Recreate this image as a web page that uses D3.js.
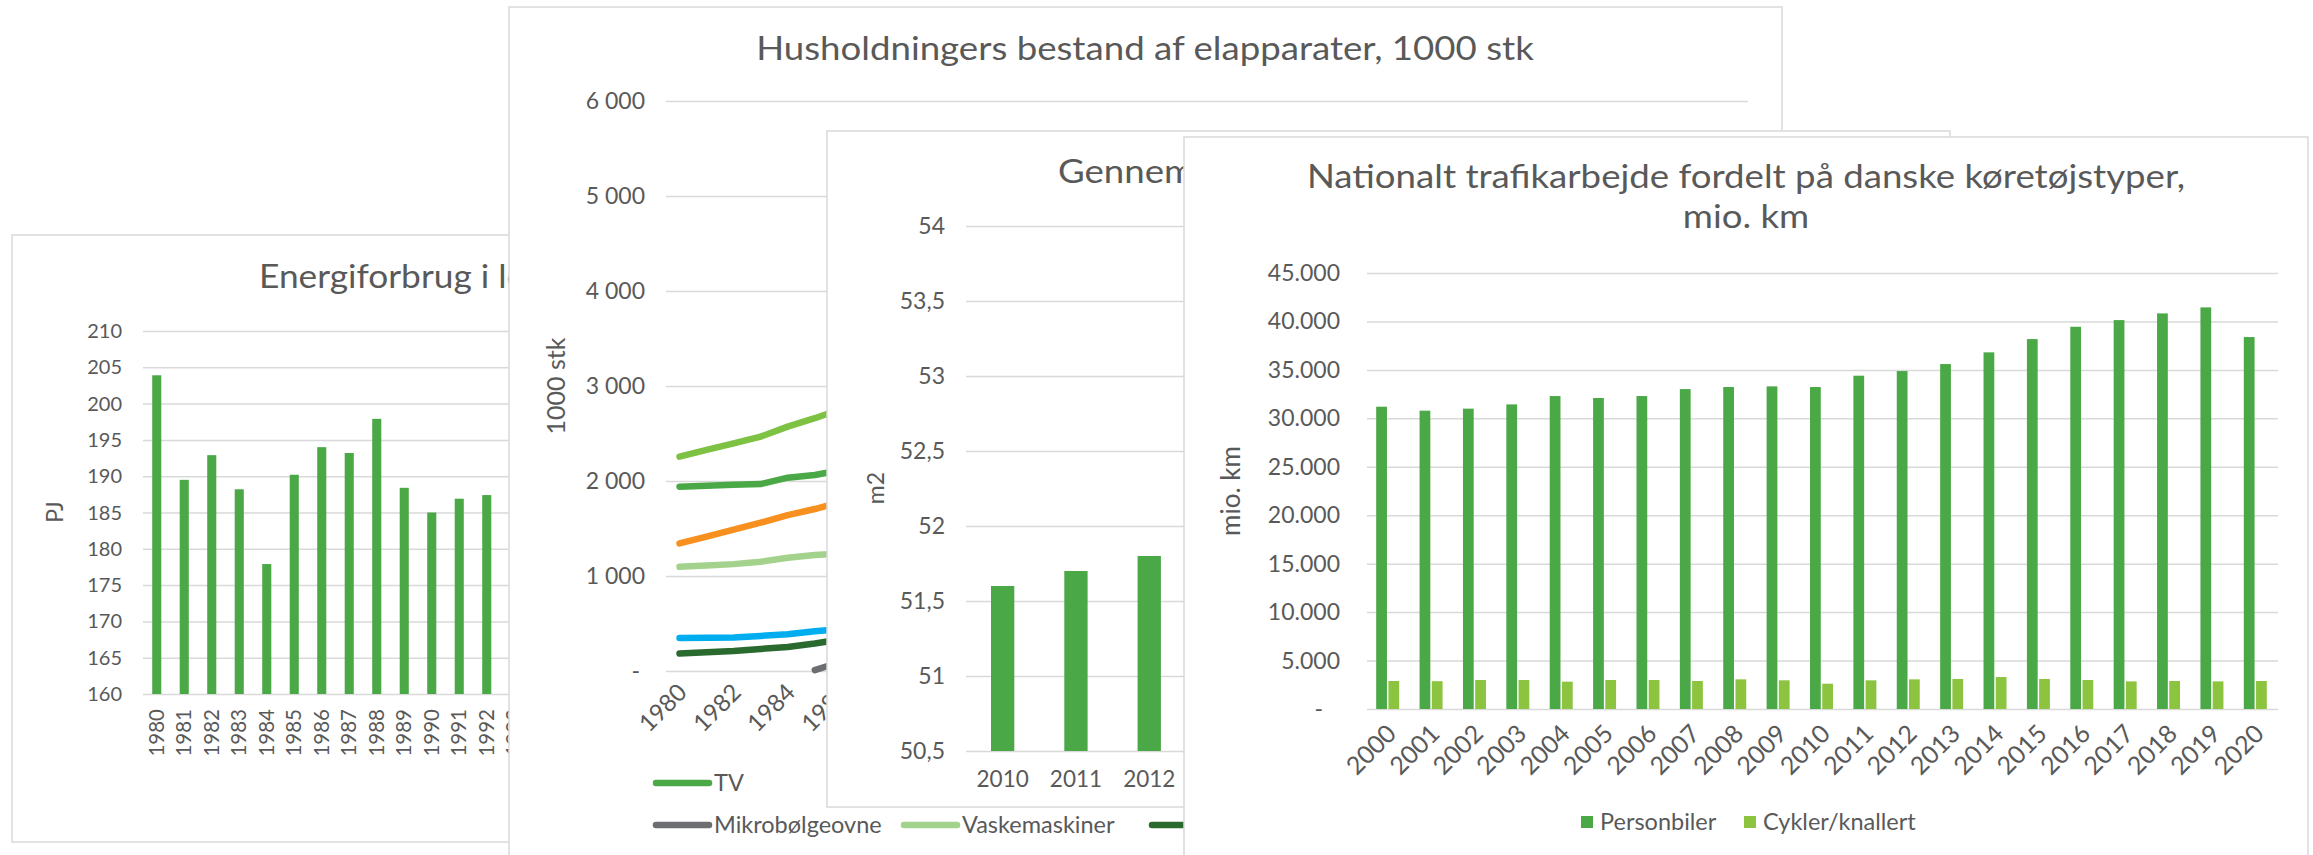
<!DOCTYPE html>
<html>
<head>
<meta charset="utf-8">
<script src="https://cdn.jsdelivr.net/npm/d3@7"></script>
<style>
  body { margin: 0; background: #fff; }
  svg { display: block; font-family: Lato, "Open Sans", sans-serif; }
  text { fill: #595959; }
</style>
</head>
<body>
<svg id="chart" width="2313" height="855"></svg>
<script>
// --- data ---
const energyYears = ['1980','1981','1982','1983','1984','1985','1986','1987','1988','1989','1990','1991','1992','1993'];
const energyPJ = [203.9, 189.5, 192.9, 188.2, 177.9, 190.2, 194.0, 193.2, 197.9, 188.4, 185.0, 186.9, 187.4, null];

const applianceYears = d3.range(1980, 2020).map(String);
const applianceSeries = [
  { name: 'TV',              color: '#4BA847', values: [1940, 1950, 1960, 1968, 2035, 2063, 2116] },
  { name: 'Køleskabe',       color: '#7DC242', values: [2256, 2327, 2397, 2467, 2572, 2661, 2761] },
  { name: 'Frysere',         color: '#F7901E', values: [1343, 1415, 1488, 1561, 1641, 1705, 1783] },
  { name: 'Opvaskemaskiner', color: '#00AEEF', values: [348, 350, 352, 369, 387, 419, 441] },
  { name: 'Mikrobølgeovne',  color: '#6D6E71', values: [null, null, null, null, null, 10, 100] },
  { name: 'Vaskemaskiner',   color: '#A3D28C', values: [1097, 1110, 1125, 1150, 1192, 1220, 1236] },
  { name: 'Tørretumblere',   color: '#2B6A2E', values: [183, 197, 211, 232, 253, 289, 335] }
];

const areaYears = ['2010', '2011', '2012'];
const areaM2 = [51.6, 51.7, 51.8];

const trafficYears = d3.range(2000, 2021).map(String);
const personbiler = [31200, 30790, 31000, 31440, 32300, 32100, 32300, 33020, 33230, 33300, 33230,
                     34400, 34880, 35600, 36810, 38180, 39450, 40140, 40830, 41450, 38390];
const cykler = [2890, 2870, 2990, 2990, 2820, 2990, 2990, 2890, 3060, 2960, 2610,
                2960, 3060, 3100, 3300, 3100, 2990, 2850, 2890, 2850, 2890];
const trafficSeries = ['Personbiler', 'Cykler/knallert'];
const trafficColors = ['#4BA847', '#8CC43F'];

const svg = d3.select('#chart');
const GRID = '#D9D9D9';

function card(x, y, w, h) {
  const g = svg.append('g');
  g.append('rect').attr('x', x).attr('y', y).attr('width', w).attr('height', h)
    .attr('fill', '#fff').attr('stroke', GRID).attr('stroke-width', 1.5);
  return g;
}

// the titles in the source are a wide face, so stretch Lato a bit sideways
function title(g, x, y, s, anchor, sx = 1.11) {
  g.append('text').attr('transform', `translate(${x},${y}) scale(${sx},1)`)
    .attr('text-anchor', anchor).attr('font-size', 33).text(s);
}

function grid(g, y, ticks, x0, x1, labelX, fmt, fontSize) {
  g.append('g')
    .attr('transform', `translate(${x0},0)`)
    .call(d3.axisLeft(y).tickValues(ticks).tickSize(-(x1 - x0)).tickFormat(''))
    .call(a => a.select('.domain').remove())
    .call(a => a.selectAll('line').attr('stroke', GRID).attr('stroke-width', 1.5));
  g.append('g').selectAll('text').data(ticks).join('text')
    .attr('x', d => d === 0 ? labelX.zero : labelX.x)
    .attr('y', d => y(d)).attr('dy', '0.35em')
    .attr('text-anchor', 'end').attr('font-size', fontSize)
    .text(fmt);
}

function yTitle(g, x, y, label, size) {
  g.append('text').attr('transform', `translate(${x},${y}) rotate(-90)`)
    .attr('text-anchor', 'middle').attr('dy', '0.35em').attr('font-size', size).text(label);
}

// --- card 1: Energiforbrug ---
{
  const g = card(12, 235, 700, 607);
  title(g, 259, 288, 'Energiforbrug i lejligheder og huse', 'start', 1.07);
  const y = d3.scaleLinear().domain([160, 210]).range([694, 331]);
  const x = d3.scaleBand().domain(energyYears).range([143, 143 + 27.5 * energyYears.length])
    .paddingInner(0.67).paddingOuter(0.335);
  grid(g, y, d3.range(160, 211, 5), 143, 700, { x: 122, zero: 122 }, d => d, 20);
  g.append('g').selectAll('rect').data(energyYears.map((k, i) => ({ k, v: energyPJ[i] })).filter(d => d.v != null))
    .join('rect')
    .attr('x', d => x(d.k)).attr('width', x.bandwidth())
    .attr('y', d => y(d.v)).attr('height', d => y(160) - y(d.v))
    .attr('fill', '#4BA847');
  g.append('g').selectAll('text').data(energyYears).join('text')
    .attr('transform', d => `translate(${x(d) + x.bandwidth() / 2},709) rotate(-90)`)
    .attr('text-anchor', 'end').attr('dy', '0.35em').attr('font-size', 20.5).text(d => d);
  yTitle(g, 55, 512, 'PJ', 23);
}

// --- card 2: Husholdningers bestand af elapparater ---
{
  const g = card(509, 7, 1273, 900);
  title(g, 1145, 60, 'Husholdningers bestand af elapparater, 1000 stk', 'middle');
  const y = d3.scaleLinear().domain([0, 6000]).range([671, 101]);
  const x = d3.scaleBand().domain(applianceYears).range([666, 1748]);
  const cx = d => x(d) + x.bandwidth() / 2;
  grid(g, y, d3.range(0, 6001, 1000), 666, 1748, { x: 645, zero: 640 },
    d => d === 0 ? '-' : d3.format(',')(d).replace(',', '\u00a0'), 23);
  const line = d3.line().defined(d => d.v != null).x(d => cx(d.k)).y(d => y(d.v));
  g.append('g').selectAll('path').data(applianceSeries).join('path')
    .attr('d', s => line(s.values.map((v, i) => ({ k: applianceYears[i], v }))))
    .attr('fill', 'none').attr('stroke', s => s.color).attr('stroke-width', 6.5)
    .attr('stroke-linecap', 'round').attr('stroke-linejoin', 'round');
  g.append('g').selectAll('text').data(applianceYears.filter((d, i) => i % 2 === 0)).join('text')
    .attr('transform', d => `translate(${cx(d) + 3},688) rotate(-45)`)
    .attr('text-anchor', 'end').attr('dy', '0.35em').attr('font-size', 24).text(d => d);
  yTitle(g, 556, 386, '1000 stk', 25);
  const leg = g.append('g').selectAll('g').data(applianceSeries).join('g')
    .attr('transform', (s, i) => `translate(${656 + (i < 4 ? i : i - 4) * 248},${i < 4 ? 783 : 825})`);
  leg.append('line').attr('x1', 0).attr('x2', 53).attr('stroke', s => s.color)
    .attr('stroke-width', 6.5).attr('stroke-linecap', 'round');
  leg.append('text').attr('x', 58).attr('dy', '0.35em').attr('font-size', 23.5).text(s => s.name);
}

// --- card 3: Gennemsnitligt boligareal ---
{
  const g = card(827, 131, 1123, 676);
  title(g, 1058, 183, 'Gennemsnitligt boligareal pr. person', 'start');
  const y = d3.scaleLinear().domain([50.5, 54]).range([751, 226]);
  const x = d3.scaleBand().domain(areaYears).range([966, 966 + 73.3 * areaYears.length])
    .paddingInner(0.682).paddingOuter(0.341);
  grid(g, y, d3.range(50.5, 54.01, 0.5), 966, 1915, { x: 945, zero: 945 },
    d => String(d).replace('.', ','), 23);
  g.append('g').selectAll('rect').data(areaYears.map((k, i) => ({ k, v: areaM2[i] }))).join('rect')
    .attr('x', d => x(d.k)).attr('width', x.bandwidth())
    .attr('y', d => y(d.v)).attr('height', d => y(50.5) - y(d.v))
    .attr('fill', '#4BA847');
  g.append('g').selectAll('text').data(areaYears).join('text')
    .attr('x', d => x(d) + x.bandwidth() / 2).attr('y', 787)
    .attr('text-anchor', 'middle').attr('font-size', 22.5).text(d => d);
  yTitle(g, 876, 488, 'm2', 23);
}

// --- card 4: Nationalt trafikarbejde ---
{
  const g = card(1184, 137, 1124, 800);
  title(g, 1746, 188, 'Nationalt trafikarbejde fordelt på danske køretøjstyper,', 'middle');
  title(g, 1746, 228, 'mio. km', 'middle');
  const y = d3.scaleLinear().domain([0, 45000]).range([709, 273]);
  const x = d3.scaleBand().domain(trafficYears).range([1367, 2278]);
  const xs = d3.scaleBand().domain(trafficSeries).range([0, 23]).paddingInner(0.12);
  grid(g, y, d3.range(0, 45001, 5000), 1367, 2278, { x: 1340, zero: 1323 },
    d => d === 0 ? '-' : d3.format(',')(d).replace(',', '.'), 23);
  const rows = trafficYears.map((k, i) => ({ k, vals: [personbiler[i], cykler[i]] }));
  g.append('g').selectAll('g').data(rows).join('g')
    .attr('transform', d => `translate(${x(d.k) + (x.bandwidth() - 23) / 2 - 1},0)`)
    .selectAll('rect').data(d => d.vals.map((v, j) => ({ s: trafficSeries[j], v, j }))).join('rect')
    .attr('x', d => xs(d.s)).attr('width', xs.bandwidth())
    .attr('y', d => y(d.v)).attr('height', d => y(0) - y(d.v))
    .attr('fill', d => trafficColors[d.j]);
  g.append('g').selectAll('text').data(trafficYears).join('text')
    .attr('transform', d => `translate(${x(d) + x.bandwidth() / 2 + 3},729) rotate(-45)`)
    .attr('text-anchor', 'end').attr('dy', '0.35em').attr('font-size', 25).text(d => d);
  yTitle(g, 1231, 491, 'mio. km', 26);
  const leg = g.append('g').selectAll('g').data(trafficSeries).join('g')
    .attr('transform', (s, i) => `translate(${[1581, 1744][i]},822)`);
  leg.append('rect').attr('y', -6).attr('width', 12).attr('height', 12).attr('fill', (s, i) => trafficColors[i]);
  leg.append('text').attr('x', 19).attr('dy', '0.35em').attr('font-size', 23.5).text(s => s);
}
</script>
</body>
</html>
